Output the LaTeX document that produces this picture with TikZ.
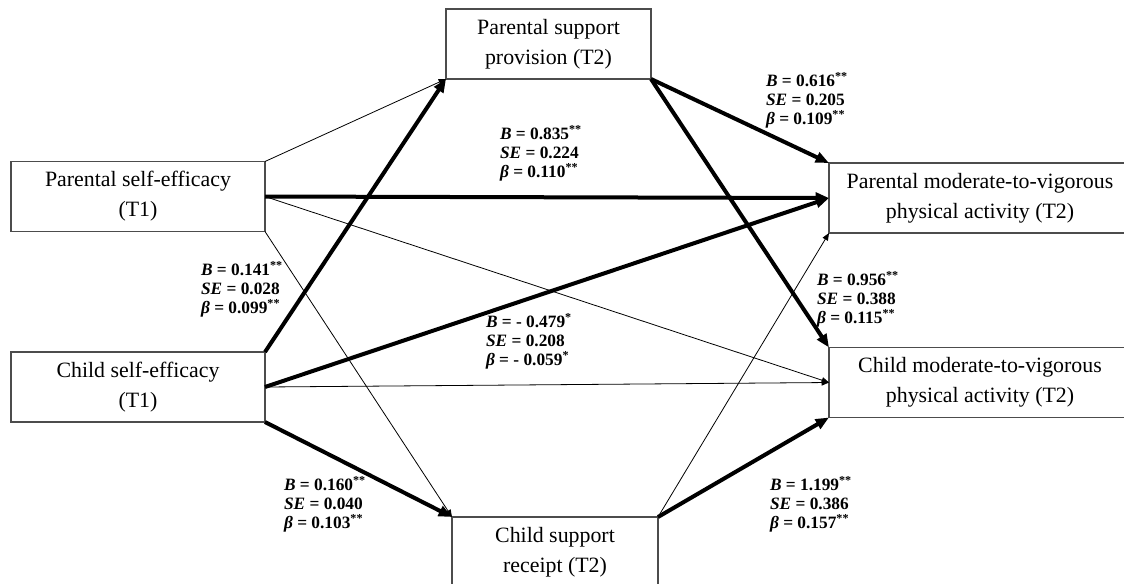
\documentclass[tikz,border=0pt]{standalone}
\usepackage{fontspec}
\setmainfont{Liberation Serif}
\usetikzlibrary{arrows.meta}

\tikzset{
  box/.style={draw=black!70, line width=1pt, inner sep=0pt, outer sep=0pt,
    minimum height=52.5pt, align=center, font=\fontsize{16.4}{22.5}\selectfont},
  est/.style={align=left, inner sep=0pt, font=\fontsize{13}{14.3}\selectfont\bfseries},
  strong/.style={line width=3pt, -{Triangle[length=10pt,width=8pt]}},
  weak/.style={line width=0.6pt, -{Triangle[length=5.5pt,width=4.5pt]}},
}
\newcommand{\sig}[1]{\textsuperscript{#1}}

\begin{document}
\begin{tikzpicture}[x=0.75pt,y=-0.75pt]
\clip (0,0) rectangle (1124,583);

% variables
\node[box, minimum width=190.5pt] (pse) at (138,196.5) {Parental self-efficacy\\(T1)};
\node[box, minimum width=190.5pt] (cse) at (138,387) {Child self-efficacy\\(T1)};
\node[box, minimum width=153.75pt] (psp) at (548.5,44) {Parental support\\provision (T2)};
\node[box, minimum width=154.5pt] (csr) at (555,552) {Child support\\receipt (T2)};
\node[box, minimum width=226.5pt] (pmv) at (980,198) {Parental moderate-to-vigorous\\physical activity (T2)};
\node[box, minimum width=226.5pt] (cmv) at (980,382.5) {Child moderate-to-vigorous\\physical activity (T2)};

% paths
\draw[weak] (pse.north east) -- (psp.south west);
\draw[strong] (pse.east) -- (pmv.west);
\draw[weak] (pse.east) -- (cmv.west);
\draw[weak] (pse.south east) -- (csr.north west);
\draw[strong] (cse.north east) -- (psp.south west);
\draw[strong] (cse.east) -- (pmv.west);
\draw[weak] (cse.east) -- (cmv.west);
\draw[strong] (cse.south east) -- (csr.north west);
\draw[strong] (psp.south east) -- (pmv.north west);
\draw[strong] (psp.south east) -- (cmv.north west);
\draw[weak] (csr.north east) -- (pmv.south west);
\draw[strong] (csr.north east) -- (cmv.south west);

% estimates
\node[est] (e1) at (807,100) {\textit{B} = 0.616\sig{**}\\\textit{SE} = 0.205\\\textit{β} = 0.109\sig{**}};
\node[est] (e2) at (541,153) {\textit{B} = 0.835\sig{**}\\\textit{SE} = 0.224\\\textit{β} = 0.110\sig{**}};
\node[est] (e3) at (242,289) {\textit{B} = 0.141\sig{**}\\\textit{SE} = 0.028\\\textit{β} = 0.099\sig{**}};
\node[est] (e4) at (529,341) {\textit{B} = - 0.479\sig{*}\\\textit{SE} = 0.208\\\textit{β} = - 0.059\sig{*}};
\node[est] (e5) at (858,299) {\textit{B} = 0.956\sig{**}\\\textit{SE} = 0.388\\\textit{β} = 0.115\sig{**}};
\node[est] (e6) at (325,504) {\textit{B} = 0.160\sig{**}\\\textit{SE} = 0.040\\\textit{β} = 0.103\sig{**}};
\node[est] (e7) at (811,504) {\textit{B} = 1.199\sig{**}\\\textit{SE} = 0.386\\\textit{β} = 0.157\sig{**}};
\end{tikzpicture}
\end{document}
